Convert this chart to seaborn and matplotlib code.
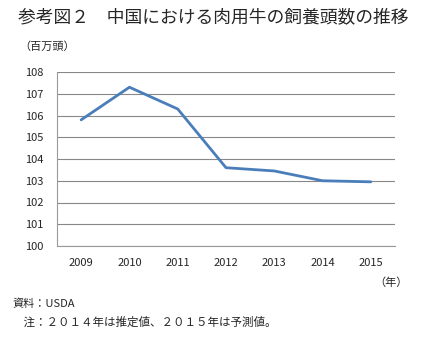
import matplotlib
matplotlib.use("Agg")
import matplotlib.pyplot as plt
import seaborn as sns
import numpy as np
import pandas as pd

years = ["2009", "2010", "2011", "2012", "2013", "2014", "2015"]
heads = [105.8, 107.3, 106.3, 103.6, 103.45, 103.0, 102.95]
yticks = [100, 101, 102, 103, 104, 105, 106, 107, 108]

sns.set_theme(style="white")
plt.rcParams['font.family'] = ['Noto Sans CJK JP', 'DejaVu Sans']

fig = plt.figure(figsize=(4.36, 3.38), dpi=100)
ax = fig.add_axes([57/436, 1-246/338, (395-57)/436, (246-72)/338])

df = pd.DataFrame({"year": years, "heads": heads})
sns.lineplot(data=df, x="year", y="heads", ax=ax, color="#4A7EBB", linewidth=2.0)

ax.set_xlim(-0.5, len(years)-0.5)
ax.set_ylim(yticks[0], yticks[-1])
ax.set_yticks(yticks)
ax.set_yticklabels([str(v) for v in yticks], fontsize=8)
ax.set_xticks(range(len(years)))
ax.set_xticklabels(years, fontsize=8)
ax.set_xticks(np.arange(-0.5, len(years)), minor=True)
ax.tick_params(axis='x', which='major', length=0, pad=9)
ax.tick_params(axis='x', which='minor', length=4, color='#888888', width=0.8, direction='out')
ax.tick_params(axis='y', which='major', length=4, color='#888888', width=0.8, direction='out', pad=6)
ax.grid(axis='y', color='#888888', linewidth=0.8)
ax.set_axisbelow(True)
for s in ['top', 'right']:
    ax.spines[s].set_visible(False)
for s in ['left', 'bottom']:
    ax.spines[s].set_color('#999999')
    ax.spines[s].set_linewidth(0.8)
ax.set_xlabel("")
ax.set_ylabel("")

fig.text(18/436, 1-17/338, "参考図２　中国における肉用牛の飼養頭数の推移", fontsize=12.8, va='center', ha='left')
fig.text(19/436, 1-47/338, "（百万頭）", fontsize=8, va='center', ha='left')
fig.text(374/436, 1-283/338, "（年）", fontsize=8, va='center', ha='left')
fig.text(12/436, 1-304/338, "資料：USDA", fontsize=8, va='center', ha='left')
fig.text(12/436, 1-322/338, "　注：２０１４年は推定値、２０１５年は予測値。", fontsize=8.3, va='center', ha='left')

fig.savefig("out.png", dpi=100)
